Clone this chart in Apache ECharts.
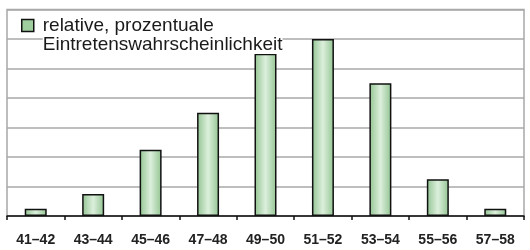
<!DOCTYPE html>
<html><head><meta charset="utf-8">
<script src="https://cdn.jsdelivr.net/npm/echarts@6/dist/echarts.min.js"></script>
<style>html,body{margin:0;padding:0;background:#fff}#c{width:530px;height:250px}</style>
</head><body><div id="c"></div>
<script>
var categories = ['41–42','43–44','45–46','47–48','49–50','51–52','53–54','55–56','57–58'];
var values = [1, 3, 9, 14, 22, 24, 18, 5, 1];
var seriesName = 'relative, prozentuale\nEintretenswahrscheinlichkeit';
var yMax = 28, yInterval = 4;

var fill = new echarts.graphic.LinearGradient(0,0,1,0,[
  {offset:0,color:'#92c492'},{offset:0.5,color:'#dcefdc'},{offset:1,color:'#92c492'}]);
var chart = echarts.init(document.getElementById('c'));
chart.setOption({
  animation:false,
  grid:{left:7,right:6,top:9.5,bottom:34,show:true,borderColor:'#a8a8a8',borderWidth:1.5},
  legend:{left:21,top:16,padding:0,itemWidth:12,itemHeight:12,icon:'rect',itemGap:0,
    itemStyle:{color:'#9fcf9f',borderColor:'#111',borderWidth:1.5},
    formatter:function(n){var p=n.split('\n');return '{a|'+p[0]+'}\n{a|'+p[1]+'}';},
    textStyle:{padding:[19,0,0,4],rich:{a:{fontFamily:'Liberation Sans',fontSize:19,lineHeight:19,color:'#1a1a1a',backgroundColor:'#fff'}}},
    data:[seriesName]},
  xAxis:{type:'category',data:categories,
    axisLine:{lineStyle:{color:'#111',width:1.5}},
    axisTick:{show:true,length:4,lineStyle:{color:'#111',width:1.5}},
    axisLabel:{margin:17,fontFamily:'Liberation Sans',fontSize:14,fontWeight:'bold',color:'#222'}},
  yAxis:{type:'value',min:0,max:yMax,interval:yInterval,
    axisLabel:{show:false},axisLine:{show:false},axisTick:{show:false},
    splitLine:{lineStyle:{color:'#a8a8a8',width:1.5}}},
  series:[{name:seriesName,type:'bar',data:values,barWidth:22,
    itemStyle:{color:fill,borderColor:'#111',borderWidth:1.5}}]
});
</script></body></html>
